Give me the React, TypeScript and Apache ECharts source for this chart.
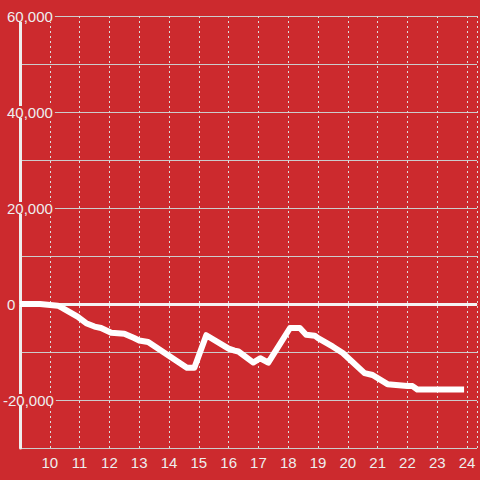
import React, { useEffect, useRef } from "react";
import * as echarts from "echarts";

const hours = [9.0, 9.67, 10.27, 10.43, 10.93, 11.22, 11.5, 11.72, 12.06, 12.5, 12.83, 13.0, 13.3, 14.6, 14.85, 15.25, 16.0, 16.2, 16.33, 16.83, 17.06, 17.33, 18.06, 18.39, 18.6, 18.89, 19.0, 19.5, 19.83, 20.56, 20.83, 21.33, 22.0, 22.17, 22.33, 23.9];
const values = [0, 0, -350, -850, -2650, -4000, -4700, -5000, -6000, -6200, -7100, -7600, -7900, -13300, -13300, -6500, -9300, -9700, -9900, -12200, -11300, -12200, -5000, -5000, -6400, -6600, -7100, -8900, -10200, -14400, -14800, -16700, -17100, -17100, -17800, -17800];
const yTickLabels = [60000, 40000, 20000, 0, -20000];

const BG = "#cc2a2e";
const TEXT = "#eeeeee";
const FONT = "Liberation Sans, Arial, sans-serif";

export default function App() {
  const ref = useRef<HTMLDivElement>(null);
  useEffect(() => {
    if (!ref.current) return;
    const chart = echarts.init(ref.current, null, { renderer: "svg" });
    const data = hours.map((h, i) => [h, values[i]]);
    const labelBase = {
      color: TEXT,
      fontSize: 15,
      fontFamily: FONT,
      align: "left",
      backgroundColor: BG,
      lineHeight: 12,
      padding: [0, 2, 0, 0],
    };
    chart.setOption({
      animation: false,
      backgroundColor: BG,
      grid: { left: 20, right: 0, top: 16, bottom: 32, containLabel: false },
      xAxis: {
        type: "value",
        min: 9,
        max: 9 + 460 / 30,
        interval: 1,
        axisLine: { show: true, lineStyle: { color: "#cccccc", width: 1 } },
        axisTick: { show: false },
        axisLabel: {
          color: TEXT,
          fontSize: 15,
          fontFamily: FONT,
          margin: 7,
          showMinLabel: false,
          formatter: (v: number) => (Number.isInteger(v) && v > 9 ? String(v) : ""),
        },
        splitLine: { show: true, lineStyle: { color: "#dddddd", width: 1, type: [2, 3] } },
      },
      yAxis: [
        {
          type: "value",
          min: -30000,
          max: 60000,
          interval: 10000,
          axisLine: { show: true, onZero: false, lineStyle: { color: TEXT, width: 3 } },
          axisTick: { show: false },
          axisLabel: {
            ...labelBase,
            margin: 13,
            formatter: (v: number) =>
              v >= 0 && yTickLabels.indexOf(v) >= 0 ? v.toLocaleString("en-US") : "",
          },
          splitLine: { show: true, lineStyle: { color: "#cccccc", width: 1 } },
        },
        {
          type: "value",
          position: "left",
          min: -30000,
          max: 60000,
          interval: 10000,
          axisLine: { show: false },
          axisTick: { show: false },
          splitLine: { show: false },
          axisLabel: {
            ...labelBase,
            margin: 17,
            formatter: (v: number) =>
              v < 0 && yTickLabels.indexOf(v) >= 0 ? v.toLocaleString("en-US") : "",
          },
        },
      ],
      series: [
        {
          type: "line",
          data,
          showSymbol: false,
          smooth: false,
          lineStyle: { color: "#ffffff", width: 6, cap: "butt", join: "round" },
          markLine: {
            silent: true,
            symbol: "none",
            label: { show: false },
            lineStyle: { color: "#f4f4f4", width: 3, type: "solid" },
            data: [{ yAxis: 0 }],
            z: 1,
          },
          z: 3,
        },
      ],
    });
    return () => chart.dispose();
  }, []);
  return (
    <div
      ref={ref}
      style={{ position: "fixed", left: 0, top: 0, width: 480, height: 480 }}
    />
  );
}
